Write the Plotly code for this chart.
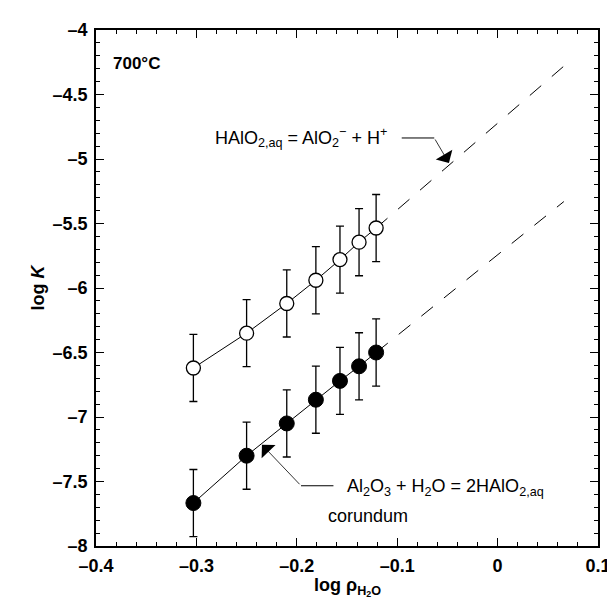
import plotly.graph_objects as go

# data
x_vals = [-0.303, -0.25, -0.21, -0.181, -0.157, -0.138, -0.121]
open_y = [-6.62, -6.35, -6.12, -5.94, -5.78, -5.645, -5.535]
filled_y = [-7.667, -7.30, -7.05, -6.866, -6.72, -6.607, -6.50]
err = [0.26, 0.26, 0.26, 0.26, 0.26, 0.26, 0.26]
ext_x = [-0.121, 0.066]
open_ext_y = [-5.535, -4.28]
filled_ext_y = [-6.50, -5.33]

x_ticks = [-0.4, -0.3, -0.2, -0.1, 0, 0.1]
x_ticktext = ["–0.4", "–0.3", "–0.2", "–0.1", "0", "0.1"]
y_ticks = [-8, -7.5, -7, -6.5, -6, -5.5, -5, -4.5, -4]
y_ticktext = ["–8", "–7.5", "–7", "–6.5", "–6", "–5.5", "–5", "–4.5", "–4"]

FONT = "Liberation Sans, Arial, Helvetica, sans-serif"

fig = go.Figure()

# dashed extrapolations
for ys in (open_ext_y, filled_ext_y):
    fig.add_trace(go.Scatter(x=ext_x, y=ys, mode="lines",
                             line=dict(color="black", width=1, dash="15px,14px"),
                             showlegend=False, hoverinfo="skip"))

# data series
fig.add_trace(go.Scatter(x=x_vals, y=open_y, mode="lines+markers",
                         line=dict(color="black", width=1),
                         marker=dict(symbol="circle", size=14, color="white",
                                     line=dict(color="black", width=1.3)),
                         error_y=dict(type="data", array=err, color="black",
                                      thickness=1.3, width=4),
                         showlegend=False))
fig.add_trace(go.Scatter(x=x_vals, y=filled_y, mode="lines+markers",
                         line=dict(color="black", width=1),
                         marker=dict(symbol="circle", size=15, color="black",
                                     line=dict(color="black", width=1)),
                         error_y=dict(type="data", array=err, color="black",
                                      thickness=1.3, width=4),
                         showlegend=False))

# leader lines (horizontal segments)
fig.add_shape(type="line", x0=-0.0955, y0=-4.837, x1=-0.0631, y1=-4.837,
              line=dict(color="black", width=1))
fig.add_shape(type="line", x0=-0.1635, y0=-7.533, x1=-0.1958, y1=-7.533,
              line=dict(color="black", width=1))

# arrows
fig.add_annotation(x=-0.0485, y=-5.031, ax=-0.0631, ay=-4.837,
                   axref="x", ayref="y", xref="x", yref="y",
                   showarrow=True, arrowhead=1, arrowsize=4, arrowwidth=0.8,
                   arrowcolor="black", text="")
fig.add_annotation(x=-0.2347, y=-7.215, ax=-0.1958, ay=-7.533,
                   axref="x", ayref="y", xref="x", yref="y",
                   showarrow=True, arrowhead=1, arrowsize=4, arrowwidth=0.8,
                   arrowcolor="black", text="")

# texts
fig.add_annotation(x=-0.2835, y=-4.837, xref="x", yref="y", showarrow=False,
                   xanchor="left", yanchor="middle",
                   text="HAlO<sub>2,aq</sub> = AlO<sub>2</sub><sup>−</sup> + H<sup>+</sup>",
                   font=dict(family=FONT, size=18, color="black"))
fig.add_annotation(x=-0.1524, y=-7.55, xref="x", yref="y", showarrow=False,
                   xanchor="left", yanchor="middle",
                   text="Al<sub>2</sub>O<sub>3</sub> + H<sub>2</sub>O = 2HAlO<sub>2,aq</sub>",
                   font=dict(family=FONT, size=18, color="black"))
fig.add_annotation(x=-0.1709, y=-7.767, xref="x", yref="y", showarrow=False,
                   xanchor="left", yanchor="middle", text="corundum",
                   font=dict(family=FONT, size=18, color="black"))
fig.add_annotation(x=-0.385, y=-4.26, xref="x", yref="y", showarrow=False,
                   xanchor="left", yanchor="middle", text="<b>700°C</b>",
                   font=dict(family=FONT, size=17, color="black"))

# x-axis title (placed as paper annotation so its subscript stays inside)
fig.add_annotation(x=0.5, y=-0.106, xref="paper", yref="paper", showarrow=False,
                   xanchor="center", yanchor="bottom",
                   text="<b>log ρ<sub>H<sub>2</sub>O</sub></b>",
                   font=dict(family=FONT, size=18, color="black"))

axis_common = dict(showgrid=False, zeroline=False, showline=True,
                   linecolor="black", linewidth=1.5, mirror="ticks",
                   ticks="inside", ticklen=8, tickwidth=1.2, tickcolor="black",
                   tickfont=dict(family=FONT, size=18, color="black"))

fig.update_xaxes(range=[-0.4, 0.1], tickvals=x_ticks,
                 ticktext=["<b>%s</b>" % t for t in x_ticktext],
                 ticklabelstandoff=3,
                 minor=dict(dtick=0.02, ticks="inside", ticklen=4,
                            tickwidth=1, tickcolor="black"),
                 **axis_common)
fig.update_yaxes(range=[-8, -4], tickvals=y_ticks,
                 ticktext=["<b>%s</b>" % t for t in y_ticktext],
                 ticklabelstandoff=3,
                 minor=dict(dtick=0.1, ticks="inside", ticklen=4,
                            tickwidth=1, tickcolor="black"),
                 title=dict(text="<b>log <i>K</i></b>",
                            font=dict(family=FONT, size=18, color="black"),
                            standoff=3),
                 **axis_common)

fig.update_layout(width=615, height=602,
                  margin=dict(l=88, r=12, t=19, b=64),
                  plot_bgcolor="white", paper_bgcolor="white",
                  showlegend=False)

fig.write_html("out.html")
